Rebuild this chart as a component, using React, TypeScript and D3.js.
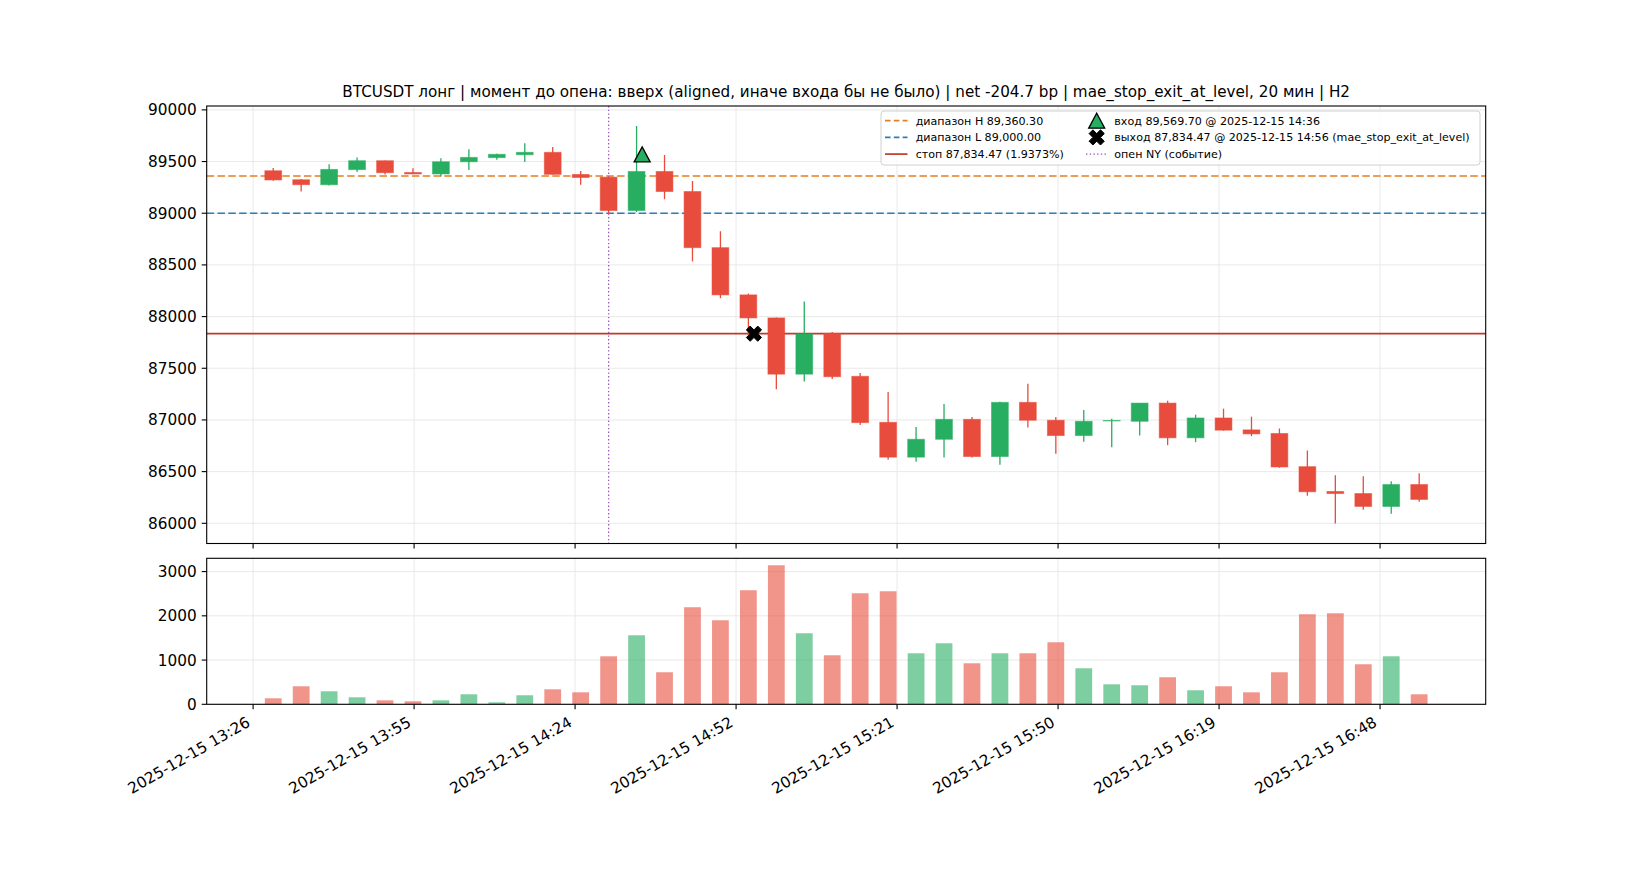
import React from "react";
import * as d3 from "d3";

const candleTimes = [
  "13:30", "13:35", "13:40", "13:45", "13:50", "13:55", "14:00", "14:05", "14:10", "14:15",
  "14:20", "14:25", "14:30", "14:35", "14:40", "14:45", "14:50", "14:55", "15:00", "15:05",
  "15:10", "15:15", "15:20", "15:25", "15:30", "15:35", "15:40", "15:45", "15:50", "15:55",
  "16:00", "16:05", "16:10", "16:15", "16:20", "16:25", "16:30", "16:35", "16:40", "16:45",
  "16:50", "16:55",
];
const opens = [
  89411, 89324, 89276, 89422, 89508, 89394, 89380, 89498, 89538, 89566,
  89589, 89375, 89349, 89026, 89404, 89210, 88667, 88210, 87987, 87443,
  87837, 87422, 86977, 86640, 86813, 87006, 86646, 87170, 86997, 86849,
  86990, 86987, 87163, 86827, 87019, 86904, 86869, 86548, 86308, 86288,
  86163, 86375,
];
const highs = [
  89437, 89330, 89473, 89540, 89511, 89434, 89531, 89618, 89575, 89676,
  89641, 89408, 89352, 89845, 89563, 89311, 88825, 88223, 87990, 88146,
  87850, 87454, 87270, 86932, 87154, 87029, 87177, 87351, 87029, 87097,
  87012, 87165, 87186, 87051, 87109, 87032, 86917, 86705, 86465, 86455,
  86407, 86484,
];
const lows = [
  89314, 89210, 89268, 89398, 89375, 89379, 89356, 89418, 89518, 89495,
  89374, 89275, 88990, 89013, 89136, 88534, 88178, 87825, 87298, 87372,
  87396, 86952, 86614, 86595, 86636, 86636, 86566, 86926, 86672, 86788,
  86735, 86849, 86756, 86785, 86897, 86843, 86538, 86266, 85997, 86131,
  86093, 86208,
];
const closes = [
  89322, 89276, 89424, 89508, 89392, 89380, 89498, 89540, 89570, 89589,
  89376, 89346, 89026, 89404, 89210, 88667, 88210, 87987, 87443, 87832,
  87418, 86974, 86640, 86813, 87006, 86646, 87170, 86997, 86849, 86987,
  86995, 87163, 86827, 87019, 86901, 86865, 86545, 86305, 86288, 86163,
  86375, 86231,
];
const volumes = [
  136, 407, 294, 158, 90, 68, 90, 226, 45, 204,
  339, 271, 1085, 1560, 724, 2194, 1900, 2578, 3143, 1606,
  1108, 2510, 2555, 1153, 1379, 927, 1153, 1153, 1402, 814,
  452, 430, 611, 317, 407, 271, 724, 2035, 2058, 905,
  1085, 226,
];

const xTickTimes = ["13:26:24", "13:55:12", "14:24:00", "14:52:48", "15:21:36", "15:50:24", "16:19:12", "16:48:00"];
const xTickLabels = [
  "2025-12-15 13:26", "2025-12-15 13:55", "2025-12-15 14:24", "2025-12-15 14:52",
  "2025-12-15 15:21", "2025-12-15 15:50", "2025-12-15 16:19", "2025-12-15 16:48",
];
const priceTicks = [86000, 86500, 87000, 87500, 88000, 88500, 89000, 89500, 90000];
const volumeTicks = [0, 1000, 2000, 3000];

const rangeHigh = 89360.3;
const rangeLow = 89000.0;
const stopLevel = 87834.47;
const entryTime = "14:36";
const entryPrice = 89569.7;
const exitTime = "14:56";
const exitPrice = 87834.47;
const nyOpenTime = "14:30";

const titleText =
  "BTCUSDT лонг | момент до опена: вверх (aligned, иначе входа бы не было) | net -204.7 bp | mae_stop_exit_at_level, 20 мин | H2";
const legendLeft = ["диапазон H 89,360.30", "диапазон L 89,000.00", "стоп 87,834.47 (1.9373%)"];
const legendRight = [
  "вход 89,569.70 @ 2025-12-15 14:36",
  "выход 87,834.47 @ 2025-12-15 14:56 (mae_stop_exit_at_level)",
  "опен NY (событие)",
];

const UP = "#27ae60";
const DOWN = "#e74c3c";
const ORANGE = "#e67e22";
const BLUE = "#2980b9";
const STOP = "#c0392b";
const PURPLE = "#9b59b6";
const GRID = "#e6e6e6";
const FONT = "DejaVu Sans, Verdana, sans-serif";

const parse = (t: string) => {
  const p = t.split(":").map(Number);
  return new Date(2025, 11, 15, p[0], p[1], p[2] || 0);
};

const W = 1650;
const H = 880;
const L = 206.7;
const R = 1485.7;
const mainTop = 106;
const mainBot = 543.5;
const volTop = 558.3;
const volBot = 704.3;

const MIN = 60000;

function xMarkerPath(s: number) {
  const pts = [
    [-0.5, -1], [0, -0.5], [0.5, -1], [1, -0.5], [0.5, 0], [1, 0.5],
    [0.5, 1], [0, 0.5], [-0.5, 1], [-1, 0.5], [-0.5, 0], [-1, -0.5],
  ];
  return "M" + pts.map((p) => `${p[0] * s},${p[1] * s}`).join("L") + "Z";
}
function triPath(w: number, h: number) {
  return `M0,${-h / 2}L${w / 2},${h / 2}L${-w / 2},${h / 2}Z`;
}

export default function App() {
  const times = candleTimes.map(parse);
  const barW = 3 * MIN;
  const t0 = +times[0] - barW / 2;
  const t1 = +times[times.length - 1] + barW / 2;
  const padX = (t1 - t0) * 0.05;
  const x = d3.scaleTime().domain([new Date(t0 - padX), new Date(t1 + padX)]).range([L, R]);

  const lo = d3.min(lows)!;
  const hi = d3.max(highs)!;
  const padY = (hi - lo) * 0.05;
  const y = d3.scaleLinear().domain([lo - padY, hi + padY]).range([mainBot, mainTop]);

  const vmax = d3.max(volumes)!;
  const yv = d3.scaleLinear().domain([0, vmax * 1.05]).range([volBot, volTop]);

  const bw = x(new Date(t0 + barW)) - x(new Date(t0));
  const xTicks = xTickTimes.map(parse);

  const tickFs = 15.3;
  const titleFs = 15.2;
  const legFs = 11.1;

  const dashStyle = "7.5 3.3";

  return (
    <svg
      width={W}
      height={H}
      style={{ position: "absolute", left: 0, top: 0, background: "#fff" }}
      fontFamily={FONT}
    >
      <rect x={0} y={0} width={W} height={H} fill="#fff" />
      <defs>
        <clipPath id="mainClip">
          <rect x={L} y={mainTop} width={R - L} height={mainBot - mainTop} />
        </clipPath>
        <clipPath id="volClip">
          <rect x={L} y={volTop} width={R - L} height={volBot - volTop} />
        </clipPath>
      </defs>

      {/* Title */}
      <text x={(L + R) / 2} y={96.5} textAnchor="middle" fontSize={titleFs} fill="#000">
        {titleText}
      </text>

      {/* Grids */}
      <g stroke={GRID} strokeWidth={0.9}>
        {priceTicks.map((v) => (
          <line key={"pg" + v} x1={L} x2={R} y1={y(v)} y2={y(v)} />
        ))}
        {xTicks.map((t, i) => (
          <line key={"xg" + i} x1={x(t)} x2={x(t)} y1={mainTop} y2={mainBot} />
        ))}
        {volumeTicks.map((v) => (
          <line key={"vg" + v} x1={L} x2={R} y1={yv(v)} y2={yv(v)} />
        ))}
        {xTicks.map((t, i) => (
          <line key={"xvg" + i} x1={x(t)} x2={x(t)} y1={volTop} y2={volBot} />
        ))}
      </g>

      {/* Main plot content */}
      <g clipPath="url(#mainClip)">
        <line x1={L} x2={R} y1={y(rangeHigh)} y2={y(rangeHigh)} stroke={ORANGE} strokeWidth={1.7} strokeDasharray={dashStyle} />
        <line x1={L} x2={R} y1={y(rangeLow)} y2={y(rangeLow)} stroke={BLUE} strokeWidth={1.7} strokeDasharray={dashStyle} />
        <line x1={L} x2={R} y1={y(stopLevel)} y2={y(stopLevel)} stroke={STOP} strokeWidth={1.7} />
        <line
          x1={x(parse(nyOpenTime))}
          x2={x(parse(nyOpenTime))}
          y1={mainTop}
          y2={mainBot}
          stroke={PURPLE}
          strokeWidth={1.3}
          strokeDasharray="1.4 2.3"
        />
        {times.map((t, i) => {
          const up = closes[i] >= opens[i];
          const c = up ? UP : DOWN;
          const cx = x(t);
          const top = y(Math.max(opens[i], closes[i]));
          const bot = y(Math.min(opens[i], closes[i]));
          return (
            <g key={"c" + i}>
              <line x1={cx} x2={cx} y1={y(highs[i])} y2={y(lows[i])} stroke={c} strokeWidth={1.3} />
              <rect
                x={cx - bw / 2}
                y={top}
                width={bw}
                height={Math.max(bot - top, 0.5)}
                fill={c}
                stroke={c}
                strokeOpacity={0.55}
                strokeWidth={1}
              />
            </g>
          );
        })}
        <path
          d={triPath(16, 15)}
          transform={`translate(${x(parse(entryTime))},${y(entryPrice)})`}
          fill={UP}
          stroke="#000"
          strokeWidth={1.3}
        />
        <path
          d={xMarkerPath(7.6)}
          transform={`translate(${x(parse(exitTime))},${y(exitPrice)})`}
          fill="#000"
          stroke="#000"
          strokeWidth={1}
        />
      </g>

      {/* Volume bars */}
      <g clipPath="url(#volClip)">
        {times.map((t, i) => {
          const up = closes[i] >= opens[i];
          return (
            <rect
              key={"v" + i}
              x={x(t) - bw / 2}
              y={yv(volumes[i])}
              width={bw}
              height={yv(0) - yv(volumes[i])}
              fill={up ? UP : DOWN}
              fillOpacity={0.6}
            />
          );
        })}
      </g>

      {/* Legend */}
      <g>
        <rect x={881} y={111} width={599} height={54} rx={3} ry={3} fill="#fff" fillOpacity={0.8} stroke="#d0d0d0" strokeWidth={1} />
        {legendLeft.map((s, i) => {
          const ry = 120.7 + i * 16.7;
          const col = i === 0 ? ORANGE : i === 1 ? BLUE : STOP;
          return (
            <g key={"ll" + i}>
              <line
                x1={885}
                x2={907.5}
                y1={ry}
                y2={ry}
                stroke={col}
                strokeWidth={1.7}
                strokeDasharray={i < 2 ? "5.6 3.2" : undefined}
              />
              <text x={915.7} y={ry} dy="0.36em" fontSize={legFs} fill="#000">
                {s}
              </text>
            </g>
          );
        })}
        {legendRight.map((s, i) => {
          const ry = 120.7 + i * 16.7;
          return (
            <g key={"lr" + i}>
              {i === 0 && (
                <path d={triPath(16, 15)} transform={`translate(1096.7,${ry})`} fill={UP} stroke="#000" strokeWidth={1.3} />
              )}
              {i === 1 && (
                <path d={xMarkerPath(7.6)} transform={`translate(1096.7,${ry})`} fill="#000" stroke="#000" strokeWidth={1} />
              )}
              {i === 2 && (
                <line x1={1086} x2={1107.5} y1={ry} y2={ry} stroke={PURPLE} strokeWidth={1.3} strokeDasharray="1.4 2.3" />
              )}
              <text x={1114.3} y={ry} dy="0.36em" fontSize={legFs} fill="#000">
                {s}
              </text>
            </g>
          );
        })}
      </g>

      {/* Axes frames */}
      <rect x={L} y={mainTop} width={R - L} height={mainBot - mainTop} fill="none" stroke="#000" strokeWidth={1.1} />
      <rect x={L} y={volTop} width={R - L} height={volBot - volTop} fill="none" stroke="#000" strokeWidth={1.1} />

      {/* Y ticks main */}
      {priceTicks.map((v) => (
        <g key={"pt" + v}>
          <line x1={L - 5} x2={L} y1={y(v)} y2={y(v)} stroke="#000" strokeWidth={1.1} />
          <text x={L - 10} y={y(v)} dy="0.36em" textAnchor="end" fontSize={tickFs} fill="#000">
            {v}
          </text>
        </g>
      ))}
      {/* Y ticks volume */}
      {volumeTicks.map((v) => (
        <g key={"vt" + v}>
          <line x1={L - 5} x2={L} y1={yv(v)} y2={yv(v)} stroke="#000" strokeWidth={1.1} />
          <text x={L - 10} y={yv(v)} dy="0.36em" textAnchor="end" fontSize={tickFs} fill="#000">
            {v}
          </text>
        </g>
      ))}
      {/* X ticks */}
      {xTicks.map((t, i) => (
        <g key={"xt" + i}>
          <line x1={x(t)} x2={x(t)} y1={mainBot} y2={mainBot + 5} stroke="#000" strokeWidth={1.1} />
          <line x1={x(t)} x2={x(t)} y1={volBot} y2={volBot + 5} stroke="#000" strokeWidth={1.1} />
          <g transform={`translate(${x(t) - 2},${volBot + 21}) rotate(-30)`}>
            <text x={0} y={0} textAnchor="end" fontSize={tickFs} fill="#000">
              {xTickLabels[i]}
            </text>
          </g>
        </g>
      ))}
    </svg>
  );
}
